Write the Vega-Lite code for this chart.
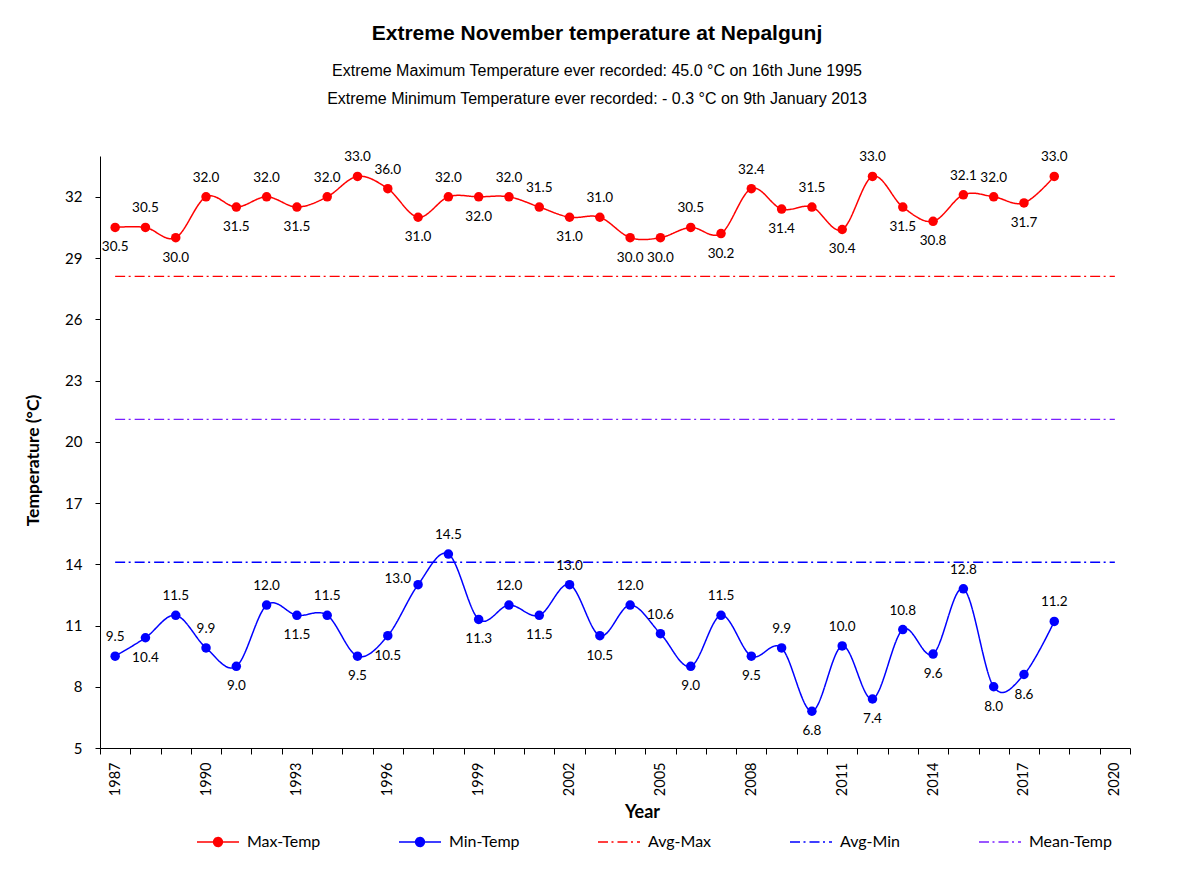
{
  "$schema": "https://vega.github.io/schema/vega-lite/v6.json",
  "width": 1030,
  "height": 592,
  "autosize": {"type": "none"},
  "padding": {"left": 100, "top": 156, "right": 53, "bottom": 129},
  "background": "white",
  "title": {
    "text": "Extreme November temperature at Nepalgunj",
    "subtitle": ["Extreme Maximum Temperature   ever recorded: 45.0 °C on 16th June 1995", "Extreme Minimum Temperature ever recorded: - 0.3 °C on 9th January 2013"],
    "font": "Liberation Sans",
    "fontSize": 21,
    "fontWeight": "bold",
    "color": "black",
    "subtitleFont": "Liberation Sans",
    "subtitleFontSize": 16,
    "subtitleColor": "black",
    "subtitlePadding": 19,
    "subtitleLineHeight": 28,
    "anchor": "middle",
    "frame": "group",
    "dx": -18,
    "offset": 43
  },
  "datasets": {
    "temps": [
      {"year": 1987, "series": "Max-Temp", "value": 30.5, "label": "30.5"},
      {"year": 1988, "series": "Max-Temp", "value": 30.5, "label": "30.5"},
      {"year": 1989, "series": "Max-Temp", "value": 30.0, "label": "30.0"},
      {"year": 1990, "series": "Max-Temp", "value": 32.0, "label": "32.0"},
      {"year": 1991, "series": "Max-Temp", "value": 31.5, "label": "31.5"},
      {"year": 1992, "series": "Max-Temp", "value": 32.0, "label": "32.0"},
      {"year": 1993, "series": "Max-Temp", "value": 31.5, "label": "31.5"},
      {"year": 1994, "series": "Max-Temp", "value": 32.0, "label": "32.0"},
      {"year": 1995, "series": "Max-Temp", "value": 33.0, "label": "33.0"},
      {"year": 1996, "series": "Max-Temp", "value": 32.4, "label": "36.0"},
      {"year": 1997, "series": "Max-Temp", "value": 31.0, "label": "31.0"},
      {"year": 1998, "series": "Max-Temp", "value": 32.0, "label": "32.0"},
      {"year": 1999, "series": "Max-Temp", "value": 32.0, "label": "32.0"},
      {"year": 2000, "series": "Max-Temp", "value": 32.0, "label": "32.0"},
      {"year": 2001, "series": "Max-Temp", "value": 31.5, "label": "31.5"},
      {"year": 2002, "series": "Max-Temp", "value": 31.0, "label": "31.0"},
      {"year": 2003, "series": "Max-Temp", "value": 31.0, "label": "31.0"},
      {"year": 2004, "series": "Max-Temp", "value": 30.0, "label": "30.0"},
      {"year": 2005, "series": "Max-Temp", "value": 30.0, "label": "30.0"},
      {"year": 2006, "series": "Max-Temp", "value": 30.5, "label": "30.5"},
      {"year": 2007, "series": "Max-Temp", "value": 30.2, "label": "30.2"},
      {"year": 2008, "series": "Max-Temp", "value": 32.4, "label": "32.4"},
      {"year": 2009, "series": "Max-Temp", "value": 31.4, "label": "31.4"},
      {"year": 2010, "series": "Max-Temp", "value": 31.5, "label": "31.5"},
      {"year": 2011, "series": "Max-Temp", "value": 30.4, "label": "30.4"},
      {"year": 2012, "series": "Max-Temp", "value": 33.0, "label": "33.0"},
      {"year": 2013, "series": "Max-Temp", "value": 31.5, "label": "31.5"},
      {"year": 2014, "series": "Max-Temp", "value": 30.8, "label": "30.8"},
      {"year": 2015, "series": "Max-Temp", "value": 32.1, "label": "32.1"},
      {"year": 2016, "series": "Max-Temp", "value": 32.0, "label": "32.0"},
      {"year": 2017, "series": "Max-Temp", "value": 31.7, "label": "31.7"},
      {"year": 2018, "series": "Max-Temp", "value": 33.0, "label": "33.0"},
      {"year": 1987, "series": "Min-Temp", "value": 9.5, "label": "9.5"},
      {"year": 1988, "series": "Min-Temp", "value": 10.4, "label": "10.4"},
      {"year": 1989, "series": "Min-Temp", "value": 11.5, "label": "11.5"},
      {"year": 1990, "series": "Min-Temp", "value": 9.9, "label": "9.9"},
      {"year": 1991, "series": "Min-Temp", "value": 9.0, "label": "9.0"},
      {"year": 1992, "series": "Min-Temp", "value": 12.0, "label": "12.0"},
      {"year": 1993, "series": "Min-Temp", "value": 11.5, "label": "11.5"},
      {"year": 1994, "series": "Min-Temp", "value": 11.5, "label": "11.5"},
      {"year": 1995, "series": "Min-Temp", "value": 9.5, "label": "9.5"},
      {"year": 1996, "series": "Min-Temp", "value": 10.5, "label": "10.5"},
      {"year": 1997, "series": "Min-Temp", "value": 13.0, "label": "13.0"},
      {"year": 1998, "series": "Min-Temp", "value": 14.5, "label": "14.5"},
      {"year": 1999, "series": "Min-Temp", "value": 11.3, "label": "11.3"},
      {"year": 2000, "series": "Min-Temp", "value": 12.0, "label": "12.0"},
      {"year": 2001, "series": "Min-Temp", "value": 11.5, "label": "11.5"},
      {"year": 2002, "series": "Min-Temp", "value": 13.0, "label": "13.0"},
      {"year": 2003, "series": "Min-Temp", "value": 10.5, "label": "10.5"},
      {"year": 2004, "series": "Min-Temp", "value": 12.0, "label": "12.0"},
      {"year": 2005, "series": "Min-Temp", "value": 10.6, "label": "10.6"},
      {"year": 2006, "series": "Min-Temp", "value": 9.0, "label": "9.0"},
      {"year": 2007, "series": "Min-Temp", "value": 11.5, "label": "11.5"},
      {"year": 2008, "series": "Min-Temp", "value": 9.5, "label": "9.5"},
      {"year": 2009, "series": "Min-Temp", "value": 9.9, "label": "9.9"},
      {"year": 2010, "series": "Min-Temp", "value": 6.8, "label": "6.8"},
      {"year": 2011, "series": "Min-Temp", "value": 10.0, "label": "10.0"},
      {"year": 2012, "series": "Min-Temp", "value": 7.4, "label": "7.4"},
      {"year": 2013, "series": "Min-Temp", "value": 10.8, "label": "10.8"},
      {"year": 2014, "series": "Min-Temp", "value": 9.6, "label": "9.6"},
      {"year": 2015, "series": "Min-Temp", "value": 12.8, "label": "12.8"},
      {"year": 2016, "series": "Min-Temp", "value": 8.0, "label": "8.0"},
      {"year": 2017, "series": "Min-Temp", "value": 8.6, "label": "8.6"},
      {"year": 2018, "series": "Min-Temp", "value": 11.2, "label": "11.2"}
    ],
    "averages": [
      {"series": "Avg-Max", "value": 28.1, "year": 1987, "end": 2020},
      {"series": "Avg-Min", "value": 14.1, "year": 1987, "end": 2020},
      {"series": "Mean-Temp", "value": 21.1, "year": 1987, "end": 2020}
    ]
  },
  "encoding": {
    "x": {
      "field": "year",
      "type": "quantitative",
      "scale": {"domain": [1986.5, 2020.5], "nice": false, "zero": false},
      "axis": {
        "values": [1986.5, 1987.5, 1988.5, 1989.5, 1990.5, 1991.5, 1992.5, 1993.5, 1994.5, 1995.5, 1996.5, 1997.5, 1998.5, 1999.5, 2000.5, 2001.5, 2002.5, 2003.5, 2004.5, 2005.5, 2006.5, 2007.5, 2008.5, 2009.5, 2010.5, 2011.5, 2012.5, 2013.5, 2014.5, 2015.5, 2016.5, 2017.5, 2018.5, 2019.5, 2020.5],
        "labelExpr": "(datum.value - 1986.5) % 3 == 0 && datum.value < 2020 ? format(datum.value + 0.5, 'd') : ''",
        "labelAngle": 270,
        "labelOffset": 15.15,
        "labelOverlap": false,
        "labelPadding": 8,
        "labelFont": "Lato",
        "labelFontSize": 14.5,
        "labelColor": "black",
        "tickSize": 6,
        "tickColor": "black",
        "tickWidth": 1,
        "domainColor": "black",
        "domainWidth": 1,
        "grid": false,
        "title": "Year",
        "titleFont": "Lato",
        "titleFontWeight": "bold",
        "titleFontSize": 18,
        "titleColor": "black",
        "titleX": 542,
        "titleY": 69,
        "titleBaseline": "alphabetic",
        "encode": {"ticks": {"update": {"y2": {"signal": "(datum.value - 1986.5) % 3 == 0 || datum.value == 2020.5 ? 6 : 3"}}}}
      }
    },
    "y": {
      "field": "value",
      "type": "quantitative",
      "scale": {"domain": [5, 34], "nice": false, "zero": false},
      "axis": {
        "values": [5, 8, 11, 14, 17, 20, 23, 26, 29, 32],
        "tickSize": 5,
        "tickColor": "black",
        "labelPadding": 13,
        "labelFont": "Lato",
        "labelFontSize": 15,
        "labelColor": "black",
        "domainColor": "black",
        "grid": false,
        "title": "Temperature (°C)",
        "titleFont": "Lato",
        "titleFontWeight": "bold",
        "titleFontSize": 17.5,
        "titleColor": "black",
        "titleAngle": 270,
        "titleX": -67,
        "titleY": 304,
        "titleAlign": "center",
        "titleBaseline": "middle"
      }
    }
  },
  "layer": [
    {
      "data": {"name": "temps"},
      "mark": {"type": "line", "interpolate": "cardinal", "tension": 0, "strokeWidth": 1.5},
      "encoding": {
        "color": {
          "field": "series",
          "type": "nominal",
          "scale": {
            "domain": ["Max-Temp", "Min-Temp", "Avg-Max", "Avg-Min", "Mean-Temp"],
            "range": ["#FF0000", "#0000FF", "#FF0000", "#0000FF", "#7A1FFF"]
          },
          "legend": {
            "orient": "none",
            "legendX": 96,
            "legendY": 664,
            "direction": "horizontal",
            "columns": 5,
            "gridAlign": "each",
            "columnPadding": 75,
            "title": null,
            "padding": 0,
            "labelFont": "Lato",
            "labelFontSize": 16,
            "labelColor": "black",
            "labelOffset": 7,
            "symbolSize": 1764,
            "symbolStrokeWidth": 1.5,
            "encode": {
              "symbols": {
                "update": {
                  "shape": {"signal": "datum.value === 'Max-Temp' || datum.value === 'Min-Temp' ? 'M-1,0H1M-0.21,0A0.21,0.21 0 1 0 0.21,0A0.21,0.21 0 1 0 -0.21,0Z' : 'M-1,0H1'"},
                  "fill": {"signal": "datum.value === 'Max-Temp' ? '#FF0000' : datum.value === 'Min-Temp' ? '#0000FF' : 'transparent'"},
                  "stroke": {"scale": "color", "field": "value"},
                  "strokeDash": {"scale": "strokeDash", "field": "value"},
                  "strokeWidth": {"value": 1.5},
                  "opacity": {"value": 1}
                }
              }
            }
          }
        },
        "strokeDash": {
          "field": "series",
          "type": "nominal",
          "scale": {
            "domain": ["Max-Temp", "Min-Temp", "Avg-Max", "Avg-Min", "Mean-Temp"],
            "range": [[1, 0], [1, 0], [10, 3.5, 2, 4], [10, 3.5, 2, 4], [10, 3.5, 2, 4]]
          }
        }
      }
    },
    {
      "data": {"name": "averages"},
      "mark": {"type": "rule", "strokeWidth": 1.3},
      "encoding": {
        "x2": {"field": "end"},
        "color": {"field": "series", "type": "nominal"},
        "strokeDash": {"field": "series", "type": "nominal"}
      }
    },
    {
      "data": {"name": "temps"},
      "mark": {"type": "point", "filled": true, "size": 90, "opacity": 1},
      "encoding": {
        "color": {"field": "series", "type": "nominal"}
      }
    },
    {
      "data": {"name": "temps"},
      "transform": [
        {"filter": "(datum.series === 'Max-Temp' && indexof([1988, 1990, 1992, 1994, 1995, 1996, 1998, 2000, 2001, 2003, 2006, 2008, 2010, 2012, 2015, 2016, 2018], datum.year) >= 0) || (datum.series === 'Min-Temp' && indexof([1987, 1989, 1990, 1992, 1994, 1998, 2000, 2002, 2004, 2005, 2007, 2009, 2011, 2013, 2015, 2018], datum.year) >= 0)"}
      ],
      "mark": {"type": "text", "font": "Lato", "fontSize": 13.5, "color": "black", "dy": -19, "baseline": "middle"},
      "encoding": {
        "text": {"field": "label"}
      }
    },
    {
      "data": {"name": "temps"},
      "transform": [
        {"filter": "(datum.series === 'Max-Temp' && indexof([1987, 1989, 1991, 1993, 1997, 1999, 2002, 2004, 2005, 2007, 2009, 2011, 2013, 2014, 2017], datum.year) >= 0) || (datum.series === 'Min-Temp' && indexof([1988, 1991, 1993, 1995, 1996, 1999, 2001, 2003, 2006, 2008, 2010, 2012, 2014, 2016, 2017], datum.year) >= 0)"}
      ],
      "mark": {"type": "text", "font": "Lato", "fontSize": 13.5, "color": "black", "dy": 20, "baseline": "middle"},
      "encoding": {
        "text": {"field": "label"}
      }
    },
    {
      "data": {"name": "temps"},
      "transform": [
        {"filter": "datum.series === 'Min-Temp' && datum.year === 1997"}
      ],
      "mark": {"type": "text", "font": "Lato", "fontSize": 13.5, "color": "black", "dx": -7, "dy": -6, "align": "right", "baseline": "middle"},
      "encoding": {
        "text": {"field": "label"}
      }
    }
  ],
  "config": {
    "view": {"stroke": null},
    "axisX": {"labelOverlap": false}
  }
}
